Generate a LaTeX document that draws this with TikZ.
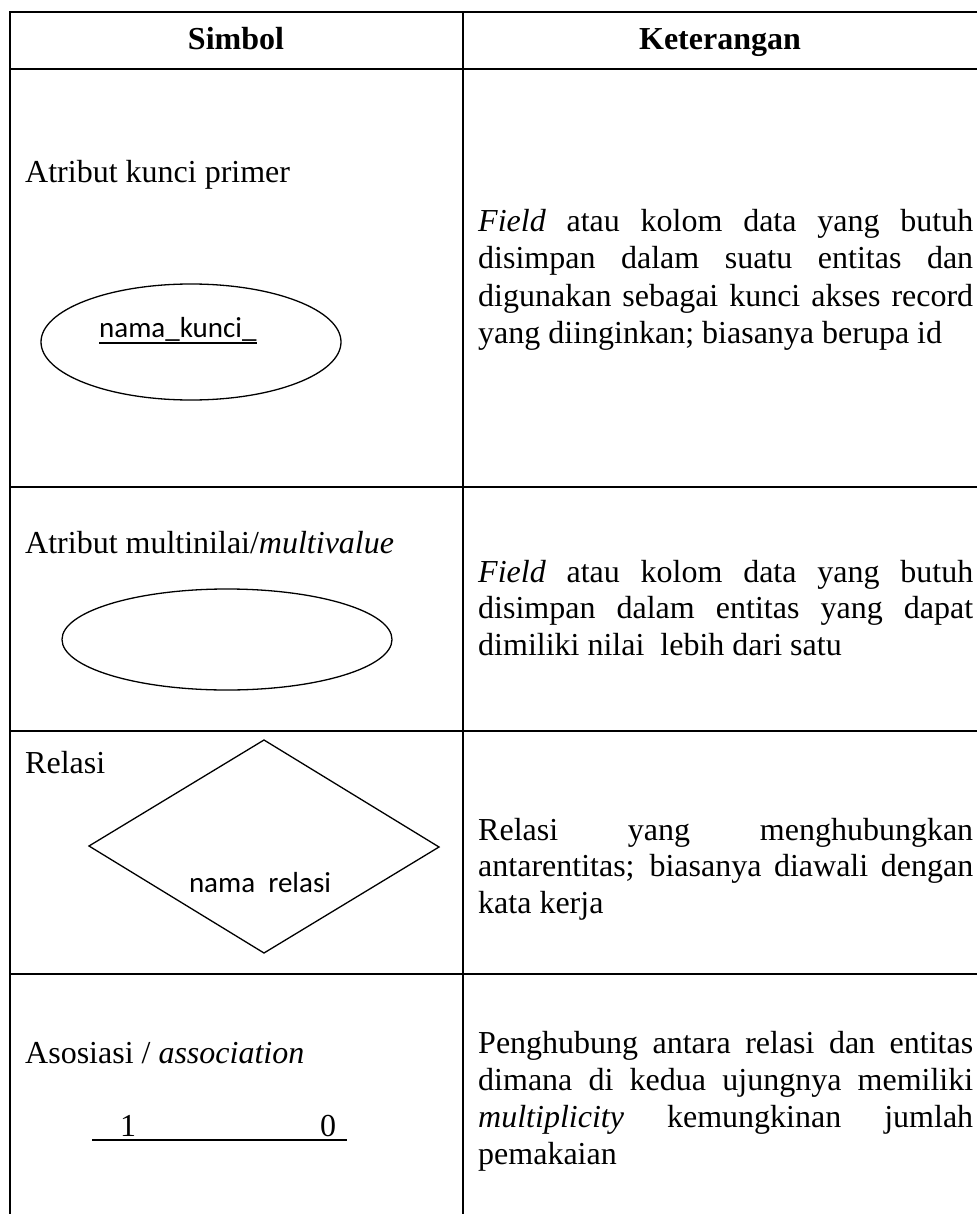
\documentclass[tikz,border=0pt]{standalone}
\usepackage{fontspec}
\setmainfont{Liberation Serif}
\newfontfamily\calib{Carlito}
\begin{document}
\begin{tikzpicture}[x=1pt,y=-1pt,
  grid/.style={line width=2pt},
  shapeline/.style={line width=1.3pt},
  txt/.style={inner sep=0pt, anchor=base west, font=\fontsize{32}{37}\selectfont},
  head/.style={inner sep=0pt, anchor=base, font=\bfseries\fontsize{32}{37}\selectfont},
  lbl/.style={inner sep=0pt, anchor=base west, font=\calib\fontsize{29}{34}\selectfont}]
\useasboundingbox (0,0) rectangle (977,1214);
\def\jw{495pt}
% grid
\draw[grid] (977,12) -- (10,12) -- (10,1214);
\draw[grid] (463,12) -- (463,1214);
\foreach \yy in {69,487,731,974}{\draw[grid] (10,\yy) -- (977,\yy);}
% header
\node[head] (h1) at (236,50) {Simbol};
\node[head] (h2) at (720,50) {Keterangan};
% row 1
\node[txt] (s1) at (25,183) {Atribut kunci primer};
\draw[shapeline] (191,342) ellipse [x radius=150pt, y radius=58pt];
\node[lbl] (k1) at (99,337) {nama\_kunci\_};
\draw[line width=1.4pt] ([yshift=-6pt]k1.base west) -- ([yshift=-6pt]k1.base east);
\node[txt] (r1a) at (478,232) {\makebox[\jw][s]{\textit{Field} atau kolom data yang butuh}};
\node[txt] (r1b) at (478,269) {\makebox[\jw][s]{disimpan dalam suatu entitas dan}};
\node[txt] (r1c) at (478,306) {\makebox[\jw][s]{digunakan sebagai kunci akses record}};
\node[txt] (r1d) at (478,343) {yang diinginkan; biasanya berupa id};
% row 2
\node[txt] (s2) at (25,553) {Atribut multinilai/\textit{multivalue}};
\draw[shapeline] (227,639.5) ellipse [x radius=165pt, y radius=50.5pt];
\node[txt] (r2a) at (478,582) {\makebox[\jw][s]{\textit{Field} atau kolom data yang butuh}};
\node[txt] (r2b) at (478,618.5) {\makebox[\jw][s]{disimpan dalam entitas yang dapat}};
\node[txt] (r2c) at (478,655) {dimiliki nilai\ \ lebih dari satu};
% row 3
\node[txt] (s3) at (25,773) {Relasi};
\draw[shapeline] (264,740) -- (439,847) -- (264,953) -- (89,846) -- cycle;
\node[lbl, anchor=base] (k3) at (260,892) {nama\ \ relasi};
\node[txt] (r3a) at (478,840) {\makebox[\jw][s]{Relasi yang menghubungkan}};
\node[txt] (r3b) at (478,876.5) {\makebox[\jw][s]{antarentitas; biasanya diawali dengan}};
\node[txt] (r3c) at (478,913) {kata kerja};
% row 4
\node[txt] (s4) at (25,1063) {Asosiasi / \textit{association}};
\coordinate (aL) at (92,1140);
\coordinate (aR) at (347,1140);
\draw[grid] (aL) -- (aR);
\node[txt, anchor=base] (n1) at (128,1136) {1};
\node[txt, anchor=base] (n0) at (328,1136) {0};
\node[txt] (r4a) at (478,1053) {\makebox[\jw][s]{Penghubung antara relasi dan entitas}};
\node[txt] (r4b) at (478,1090) {\makebox[\jw][s]{dimana di kedua ujungnya memiliki}};
\node[txt] (r4c) at (478,1127) {\makebox[\jw][s]{\textit{multiplicity} kemungkinan jumlah}};
\node[txt] (r4d) at (478,1164) {pemakaian};
\end{tikzpicture}
\end{document}
